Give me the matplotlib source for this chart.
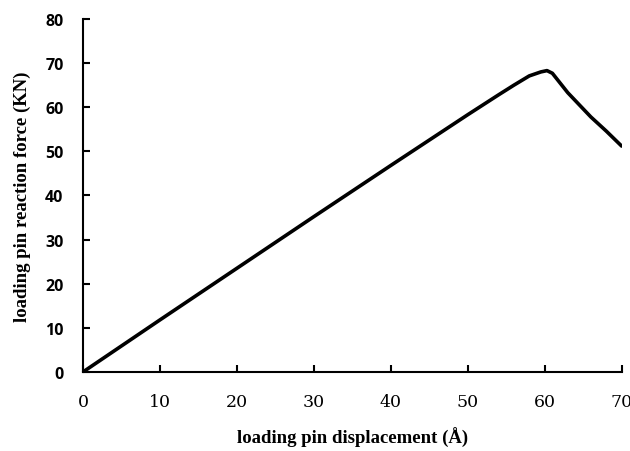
import matplotlib
matplotlib.use("Agg")
import matplotlib.pyplot as plt

displacement = [0, 10, 20, 30, 40, 50, 54, 56, 58, 59.5, 60.3, 61, 63, 66, 68, 70]
force = [0, 11.8, 23.5, 35.2, 46.8, 58.3, 62.8, 65.0, 67.1, 68.0, 68.3, 67.7, 63.3, 57.8, 54.6, 51.2]

x_ticks = [0, 10, 20, 30, 40, 50, 60, 70]
y_ticks = [0, 10, 20, 30, 40, 50, 60, 70, 80]

fig = plt.figure(figsize=(6.3, 4.52), dpi=100)
ax = fig.add_axes([0.1317, 0.1748, 0.855, 0.781])
ax.plot(displacement, force, color="black", linewidth=2.6, solid_joinstyle="round", solid_capstyle="round")
ax.set_xlim(0, 70)
ax.set_ylim(0, 80)
ax.set_xticks(x_ticks)
ax.set_yticks(y_ticks)
for s in ["top", "right"]:
    ax.spines[s].set_visible(False)
for s in ["left", "bottom"]:
    ax.spines[s].set_linewidth(1.5)
ax.tick_params(direction="in", length=5, width=1.5)
ax.tick_params(axis="x", pad=15)
ax.tick_params(axis="y", pad=14)
for lab in ax.get_xticklabels():
    lab.set_fontfamily("DejaVu Serif")
    lab.set_fontsize(12.5)
for lab in ax.get_yticklabels():
    lab.set_fontfamily("Open Sans")
    lab.set_fontweight("bold")
    lab.set_fontsize(11.5)
ax.set_xlabel("loading pin displacement (Å)", fontfamily="Liberation Serif", fontweight="bold", fontsize=13.5, labelpad=12)
ax.set_ylabel("loading pin reaction force (KN)", fontfamily="Liberation Serif", fontweight="bold", fontsize=13.5, labelpad=10)
fig.savefig("out.png", dpi=100)
